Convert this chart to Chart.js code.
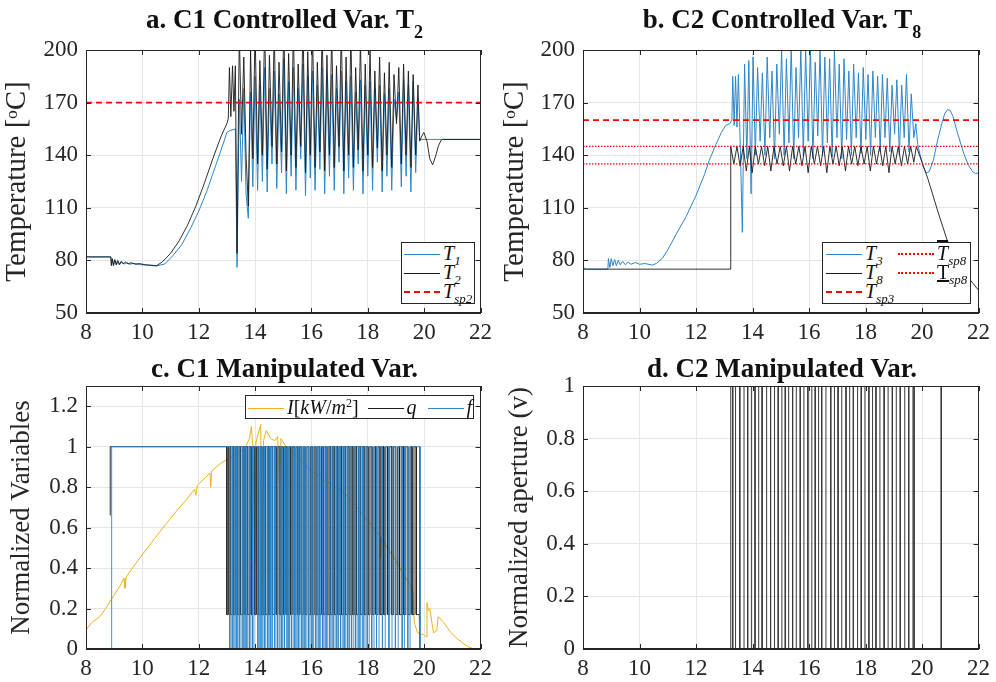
<!DOCTYPE html>
<html>
<head>
<meta charset="utf-8">
<script src="https://cdn.jsdelivr.net/npm/chart.js@4.4.1/dist/chart.umd.min.js"></script>
<style>
  body { margin: 0; background: #fff; }
  #wrap { position: relative; width: 996px; height: 682px; overflow: hidden; font-family: "Liberation Serif", "Times New Roman", serif; color: #111; }
  canvas { position: absolute; }
  .ttl { position: absolute; text-align: center; font-weight: bold; font-size: 27px; line-height: 27px; white-space: nowrap; }
  .ttl sub { font-size: 18px; vertical-align: -10px; line-height: 0; }
  .leg { position: absolute; background: #fff; border: 1px solid #262626; z-index: 2; font-size: 20px; }
  .row { position: absolute; height: 20px; line-height: 20px; white-space: nowrap; }
  .ln { display: inline-block; width: 36px; height: 0; margin-right: 3px; vertical-align: middle; position: relative; top: -1px; }
  .row i { font-style: italic; }
  .sb { font-size: 13px; font-style: italic; position: relative; top: 5px; }
  .sp { font-size: 12px; position: relative; top: -7px; }
</style>
</head>
<body>
<div id="wrap">
  <canvas id="cA" width="498" height="345" style="left:0;top:0"></canvas>
  <canvas id="cB" width="498" height="345" style="left:498px;top:0"></canvas>
  <canvas id="cC" width="498" height="337" style="left:0;top:345px"></canvas>
  <canvas id="cD" width="498" height="337" style="left:498px;top:345px"></canvas>

  <div class="ttl" style="left:86px;width:397px;top:6px">a. C1 Controlled Var. T<sub>2</sub></div>
  <div class="ttl" style="left:583px;width:398px;top:6px">b. C2 Controlled Var. T<sub>8</sub></div>
  <div class="ttl" style="left:86px;width:397px;top:355px">c. C1 Manipulated Var.</div>
  <div class="ttl" style="left:583px;width:398px;top:355px">d. C2 Manipulated Var.</div>

  <div class="leg" style="left:401px;top:242px;width:72px;height:60px">
    <div class="row" style="left:2px;top:0px"><span class="ln" style="border-top:1.5px solid #2E86C8"></span><i>T</i><span class="sb">1</span></div>
    <div class="row" style="left:2px;top:19px"><span class="ln" style="border-top:1.5px solid #1a1a1a"></span><i>T</i><span class="sb">2</span></div>
    <div class="row" style="left:2px;top:38px"><span class="ln" style="border-top:2px dashed #ff0000"></span><i>T</i><span class="sb">sp2</span></div>
  </div>

  <div class="leg" style="left:822px;top:242px;width:147px;height:60px">
    <div class="row" style="left:3px;top:0px"><span class="ln" style="border-top:1.5px solid #2E86C8"></span><i>T</i><span class="sb">3</span></div>
    <div class="row" style="left:3px;top:19px"><span class="ln" style="border-top:1.5px solid #1a1a1a"></span><i>T</i><span class="sb">8</span></div>
    <div class="row" style="left:3px;top:38px"><span class="ln" style="border-top:2px dashed #ff0000"></span><i>T</i><span class="sb">sp3</span></div>
    <div class="row" style="left:75px;top:0px"><span class="ln" style="border-top:2px dotted #ff0000"></span><i style="text-decoration:overline">T</i><span class="sb">sp8</span></div>
    <div class="row" style="left:75px;top:19px"><span class="ln" style="border-top:2px dotted #ff0000"></span><span style="text-decoration:underline">T</span><span class="sb">sp8</span></div>
  </div>

  <div class="leg" style="left:245px;top:395px;width:227px;height:22px">
    <div class="row" style="left:2px;top:1px">
      <span class="ln" style="border-top:1.5px solid #EDB120"></span><i>I</i>[<i>kW</i>/<i>m</i><span class="sp">2</span>]
      <span class="ln" style="border-top:1.5px solid #1a1a1a;margin-left:4px"></span><i>q</i>
      <span class="ln" style="border-top:1.5px solid #2E86C8;margin-left:6px"></span><i>f</i>
    </div>
  </div>
</div>

<script>
// ---------- data (hours on x) ----------
const hourTicks = [8, 10, 12, 14, 16, 18, 20, 22];
const tempTicks = [50, 80, 110, 140, 170, 200];

// panel a: T1, T2 and set point
const t1Curve = [
  [8,82],[8.88,82],[8.9,78],[8.94,80.5],[8.98,77.5],[9.03,80],[9.08,77.5],[9.14,79.5],[9.2,77.8],[9.28,79],
  [9.36,78],[9.45,78.8],[9.55,77.8],[9.7,78.3],[9.9,77.6],[10.1,77.4],[10.3,77.1],[10.5,76.8],[10.8,78],[11.1,83],
  [11.4,89],[11.7,98],[12.0,108],[12.3,120],[12.6,134],[12.9,148],[13.0,153],[13.1,154],[13.3,155],[13.36,76],
  [13.44,172],[13.52,125],[13.6,178],[13.68,118],[13.76,104],[13.84,176],[13.92,122],[14.0,185],[14.09,120],[14.17,180],
  [14.26,125],[14.34,190],[14.43,119],[14.51,178],[14.6,135],[14.68,188],[14.77,121],[14.85,175],[14.94,130],[15.02,195],
  [15.11,118],[15.19,182],[15.28,128],[15.36,190],[15.45,120],[15.53,178],[15.62,138],[15.7,192],[15.79,117],[15.87,185],
  [15.96,127],[16.04,188],[16.13,120],[16.21,180],[16.3,132],[16.38,190],[16.47,118],[16.55,183],[16.64,128],[16.72,186],
  [16.81,120],[16.89,178],[16.98,136],[17.06,188],[17.15,118],[17.23,182],[17.32,127],[17.4,185],[17.49,120],[17.57,176],
  [17.66,135],[17.74,183],[17.83,118],[17.91,180],[18.0,128],[18.08,182],[18.17,120],[18.25,178],[18.34,136],[18.42,180],
  [18.51,119],[18.59,175],[18.68,128],[18.76,178],[18.85,120],[18.93,172],[19.02,160],[19.1,176],[19.19,122],[19.27,183],
  [19.36,128],[19.44,180],[19.53,119],[19.61,182],[19.7,130],[19.78,172],[19.84,149],[22,149]
];
const t2Curve = [
  [8,82],[8.88,82],[8.9,77],[8.93,81],[8.97,77],[9.02,80.5],[9.07,77.5],[9.12,80],[9.18,77.5],[9.25,79.5],
  [9.32,78],[9.4,79],[9.5,78],[9.6,78.7],[9.75,77.8],[9.9,78.2],[10.1,77.5],[10.3,77.3],[10.5,77],[10.7,79],
  [11.0,84],[11.3,91],[11.6,100],[11.9,111],[12.2,124],[12.5,138],[12.8,151],[13.0,158],[13.05,161],[13.09,190],
  [13.14,162],[13.2,191],[13.25,165],[13.3,191],[13.36,84],[13.44,210],[13.52,152],[13.6,196],[13.68,140],[13.76,111],
  [13.84,200],[13.92,138],[14.0,212],[14.09,135],[14.17,194],[14.26,140],[14.34,215],[14.43,132],[14.51,197],[14.6,145],
  [14.68,210],[14.77,135],[14.85,193],[14.94,142],[15.02,215],[15.11,131],[15.19,198],[15.28,140],[15.36,212],[15.45,133],
  [15.53,192],[15.62,145],[15.7,215],[15.79,130],[15.87,199],[15.96,140],[16.04,210],[16.13,133],[16.21,193],[16.3,142],
  [16.38,212],[16.47,131],[16.55,197],[16.64,140],[16.72,210],[16.81,133],[16.89,191],[16.98,145],[17.06,212],[17.15,131],
  [17.23,196],[17.32,140],[17.4,208],[17.49,133],[17.57,190],[17.66,143],[17.74,205],[17.83,131],[17.91,192],[18.0,140],
  [18.08,200],[18.17,133],[18.25,188],[18.34,144],[18.42,196],[18.51,131],[18.59,187],[18.68,140],[18.76,193],[18.85,133],
  [18.93,186],[19.02,158],[19.1,190],[19.19,135],[19.27,192],[19.36,140],[19.44,188],[19.53,133],[19.61,186],[19.7,140],
  [19.78,180],[19.84,148],[19.92,151],[19.99,153],[20.1,148],[20.2,138],[20.3,134.5],[20.4,139],[20.5,145],[20.6,148.5],
  [20.66,149],[22,149]
];
const tsp2 = 170;

// panel b: T3, T8 and set points
const t3Curve = [
  [8,76],[8.1,75],[8.88,75],[8.9,81],[8.95,76],[9.0,81],[9.06,77],[9.12,80.5],[9.18,77],[9.25,80],
  [9.32,77.5],[9.4,79.5],[9.5,77.5],[9.6,79],[9.7,77.8],[9.85,78.8],[10.0,77.8],[10.2,78.2],[10.45,77.3],[10.6,78.3],
  [10.8,81],[11.0,86],[11.3,95],[11.65,105],[12.0,117],[12.3,129],[12.47,137],[12.7,146],[12.9,153],[13.05,157],
  [13.2,158],[13.27,160],[13.3,185],[13.35,157],[13.4,185],[13.45,156],[13.5,186],[13.56,150],[13.64,96],[13.72,192],
  [13.8,138],[13.87,194],[13.95,118],[14.02,196],[14.1,140],[14.18,190],[14.27,148],[14.35,187],[14.44,140],[14.52,196],
  [14.61,150],[14.69,188],[14.78,138],[14.86,192],[14.95,152],[15.03,200],[15.12,140],[15.2,195],[15.29,147],[15.37,202],
  [15.46,138],[15.54,190],[15.63,150],[15.71,201],[15.8,140],[15.88,200],[15.97,148],[16.05,202],[16.14,138],[16.22,193],
  [16.31,151],[16.39,200],[16.48,140],[16.56,196],[16.65,147],[16.73,195],[16.82,139],[16.9,200],[16.99,150],[17.07,192],
  [17.16,138],[17.24,195],[17.33,149],[17.41,188],[17.5,140],[17.58,192],[17.67,150],[17.75,187],[17.84,141],[17.92,190],
  [18.01,149],[18.09,186],[18.18,140],[18.26,188],[18.35,150],[18.43,185],[18.52,142],[18.6,186],[18.69,150],[18.77,184],
  [18.86,142],[18.94,180],[19.03,152],[19.11,183],[19.2,140],[19.28,180],[19.37,150],[19.45,186],[19.54,142],[19.62,175],
  [19.71,150],[19.78,158],[19.85,146],[19.95,139],[20.05,133],[20.15,130],[20.25,130.5],[20.4,137],[20.56,149],[20.7,158],
  [20.8,163.5],[20.9,166],[21.0,165.5],[21.1,162],[21.25,153],[21.4,145],[21.5,140],[21.65,134],[21.8,130.5],[21.9,129.5],
  [22,130]
];
const t8Curve = [
  [8,75],[13.23,75],[13.23,145],[13.34,135],[13.45,145],[13.56,134],[13.67,145],[13.78,131],[13.89,145],[13.99,130],
  [14.1,145],[14.21,135],[14.32,145],[14.43,134],[14.54,145],[14.65,131],[14.76,145],[14.87,135],[14.98,145],[15.09,134],
  [15.2,145],[15.31,131],[15.42,145],[15.53,135],[15.64,145],[15.75,134],[15.86,145],[15.97,130],[16.08,145],[16.19,135],
  [16.3,145],[16.41,134],[16.52,145],[16.63,130],[16.74,145],[16.85,135],[16.96,145],[17.07,134],[17.18,145],[17.29,131],
  [17.4,145],[17.51,135],[17.62,145],[17.73,134],[17.84,145],[17.95,135],[18.06,145],[18.17,131],[18.28,145],[18.39,135],
  [18.5,145],[18.61,134],[18.72,145],[18.83,130],[18.94,145],[19.05,135],[19.16,145],[19.27,134],[19.38,145],[19.49,135],
  [19.6,145],[19.71,136],[19.8,145],[20.0,136],[20.2,127],[20.56,108],[20.9,91],[21.2,81],[21.5,73],[21.8,67],[22,63]
];
const tsp3 = 160;
const tsp8Upper = 145;
const tsp8Lower = 135;

// panel c: irradiance I, q and f
const irradiance = [
  [8,0.094],[8.2,0.13],[8.49,0.16],[8.7,0.2],[8.96,0.258],[9.2,0.31],[9.35,0.35],[9.38,0.3],[9.43,0.357],[9.7,0.41],
  [10.02,0.47],[10.4,0.54],[10.85,0.62],[11.2,0.68],[11.55,0.736],[11.85,0.79],[11.9,0.76],[11.95,0.81],[12.02,0.818],[12.4,0.87],
  [12.43,0.8],[12.46,0.88],[12.8,0.92],[13.19,0.95],[13.5,0.98],[13.67,1.0],[13.8,1.04],[13.87,1.1],[13.93,0.98],[13.99,0.43],
  [14.03,1.02],[14.2,1.11],[14.25,0.32],[14.3,1.03],[14.4,1.08],[14.55,1.04],[14.7,1.03],[14.8,1.05],[14.87,0.8],[14.92,1.04],
  [15.1,1.0],[15.5,0.95],[16.02,0.88],[16.5,0.83],[17.07,0.785],[17.5,0.72],[17.9,0.65],[18.2,0.6],[18.42,0.56],[18.45,0.45],
  [18.48,0.55],[18.7,0.5],[19.07,0.42],[19.3,0.36],[19.53,0.31],[19.6,0.28],[19.65,0.13],[19.77,0.08],[20.0,0.07],[20.08,0.06],
  [20.1,0.23],[20.15,0.19],[20.2,0.2],[20.33,0.08],[20.45,0.09],[20.5,0.16],[20.7,0.13],[20.9,0.09],[21.1,0.06],[21.45,0.02],
  [21.7,0.003],[22,0]
];
const qStart = [[8.86,0.66],[8.86,1]];
const qLevels = [1, 0.17];
const qSwitch = [
  13.00,13.06,13.12,13.19,13.24,13.30,13.37,13.43,13.48,13.55,13.61,13.66,13.73,13.79,13.86,13.92,13.99,14.05,14.12,14.18,
  14.24,14.31,14.37,14.43,14.49,14.56,14.62,14.68,14.75,14.81,14.88,14.94,15.00,15.07,15.13,15.20,15.26,15.32,15.39,15.45,
  15.52,15.58,15.64,15.71,15.77,15.84,15.90,15.97,16.03,16.10,16.16,16.23,16.29,16.36,16.42,16.49,16.55,16.62,16.68,16.75,
  16.81,16.88,16.94,17.01,17.07,17.14,17.21,17.27,17.34,17.40,17.47,17.54,17.60,17.67,17.74,17.80,17.87,17.94,18.01,18.08,
  18.15,18.22,18.29,18.36,18.43,18.50,18.57,18.64,18.71,18.78,18.85,18.92,18.99,19.06,19.13,19.21,19.28,19.35,19.42,19.50,
  19.57,19.64,19.72,19.83
];
const qEnd = [[19.85,0],[22,0]];
const fStart = [[8,0],[8.91,0],[8.91,1]];
const fLevels = [1, 0];
const fSwitch = [
  13.10,13.15,13.21,13.26,13.33,13.38,13.44,13.50,13.57,13.62,13.68,13.74,13.80,13.85,13.91,13.96,14.10,14.15,14.21,14.27,
  14.33,14.38,14.45,14.50,14.56,14.62,14.69,14.74,14.80,14.86,14.93,14.98,15.04,15.11,15.17,15.22,15.29,15.35,15.41,15.46,
  15.53,15.59,15.66,15.71,15.77,15.84,15.90,15.95,16.02,16.08,16.15,16.20,16.27,16.33,16.40,16.45,16.52,16.58,16.65,16.70,
  16.77,16.84,16.90,16.96,17.03,17.09,17.16,17.22,17.29,17.35,17.42,17.48,17.56,17.62,17.69,17.75,17.83,17.90,17.98,18.05,
  18.14,18.22,18.31,18.40,18.52,18.62,18.75,18.86,18.98,19.08,19.22,19.30,19.42,19.50
];
const fEnd = [[19.85,0],[22,0]];

// panel d: valve aperture v
const vStart = [[8,0]];
const vLevels = [0, 1];
const vSwitch = [
  13.23,13.30,13.40,13.55,13.70,13.83,13.96,14.09,14.22,14.34,14.50,14.64,14.78,14.91,15.04,15.16,15.28,15.42,15.55,15.69,
  15.82,15.96,16.10,16.22,16.34,16.45,16.60,16.77,16.90,17.03,17.16,17.31,17.44,17.57,17.72,17.85,17.98,18.12,18.25,18.37,
  18.51,18.66,18.80,18.95,19.09,19.23,19.39,19.53,19.68,19.72,20.67,20.69
];
const vEnd = [[22,0]];

// ---------- helpers ----------
const FONT = '"Liberation Serif", "Times New Roman", Times, serif';
const TXT = '#262626';
const BLUE = '#2E86C8', BLACK = '#1a1a1a', RED = '#ff0000', YELLOW = '#EDB120';
Chart.defaults.font.family = FONT;

const xy = arr => arr.map(([x, y]) => ({ x, y }));

function stepped(start, switches, levels, end) {
  const pts = xy(start);
  let v = levels[0];
  switches.forEach(t => {
    pts.push({ x: t, y: v });
    v = (v === levels[0]) ? levels[1] : levels[0];
    pts.push({ x: t, y: v });
  });
  pts.push({ x: end[0][0], y: v });
  return pts.concat(xy(end));
}

const flat = v => [{ x: hourTicks[0], y: v }, { x: hourTicks[hourTicks.length - 1], y: v }];

function line(data, color, extra) {
  return Object.assign({ data, borderColor: color, borderWidth: 1, pointRadius: 0, tension: 0, fill: false }, extra || {});
}

// box around the plot with inward ticks, like the original figure
const boxPlugin = {
  id: 'box',
  afterDraw(chart) {
    const { ctx, chartArea: a, scales } = chart;
    ctx.save();
    ctx.strokeStyle = TXT;
    ctx.lineWidth = 1;
    ctx.strokeRect(Math.round(a.left) + 0.5, Math.round(a.top) + 0.5, Math.round(a.right - a.left) - 1, Math.round(a.bottom - a.top) - 1);
    ctx.beginPath();
    scales.x.ticks.forEach(t => {
      const p = Math.round(scales.x.getPixelForValue(t.value)) + 0.5;
      ctx.moveTo(p, a.bottom); ctx.lineTo(p, a.bottom - 5);
      ctx.moveTo(p, a.top); ctx.lineTo(p, a.top + 5);
    });
    scales.y.ticks.forEach(t => {
      const p = Math.round(scales.y.getPixelForValue(t.value)) + 0.5;
      ctx.moveTo(a.left, p); ctx.lineTo(a.left + 5, p);
      ctx.moveTo(a.right, p); ctx.lineTo(a.right - 5, p);
    });
    ctx.stroke();
    ctx.restore();
  }
};

function makeChart(id, datasets, y, yWidth, padTop, xHeight) {
  return new Chart(document.getElementById(id), {
    type: 'line',
    data: { datasets },
    plugins: [boxPlugin],
    options: {
      responsive: false,
      animation: false,
      layout: { padding: { top: padTop, right: 15, left: 0, bottom: 0 } },
      plugins: { legend: { display: false }, tooltip: { enabled: false } },
      scales: {
        x: {
          type: 'linear', min: 8, max: 22,
          afterBuildTicks: s => { s.ticks = hourTicks.map(v => ({ value: v })); },
          ticks: { color: TXT, font: { family: FONT, size: 23 }, padding: 6, maxRotation: 0 },
          grid: { color: '#e6e6e6', drawTicks: false },
          border: { color: TXT },
          afterFit: s => { s.height = xHeight; }
        },
        y: Object.assign({
          type: 'linear',
          grid: { color: '#e6e6e6', drawTicks: false },
          border: { color: TXT },
          afterFit: s => { s.width = yWidth; }
        }, y)
      }
    }
  });
}

const numLabel = v => String(+Number(v).toFixed(1));
const tempTitle = { display: true, text: 'Temperature [ᵒC]', color: TXT, font: { family: FONT, size: 29 }, padding: { top: 0, bottom: 0 } };

// ---------- panel a ----------
makeChart('cA', [
  line(flat(tsp2), RED, { borderDash: [6, 4], borderWidth: 1.6 }),
  line(xy(t2Curve), BLACK, { borderWidth: 0.9 }),
  line(xy(t1Curve), BLUE)
], {
  min: 50, max: 200,
  afterBuildTicks: s => { s.ticks = tempTicks.map(v => ({ value: v })); },
  ticks: { color: TXT, font: { family: FONT, size: 23 }, padding: 8 },
  title: tempTitle
}, 86, 50, 32);

// ---------- panel b ----------
makeChart('cB', [
  line(flat(tsp8Lower), RED, { borderDash: [1.5, 1.5], borderWidth: 1.3 }),
  line(flat(tsp8Upper), RED, { borderDash: [1.5, 1.5], borderWidth: 1.3 }),
  line(flat(tsp3), RED, { borderDash: [6, 4], borderWidth: 1.6 }),
  line(xy(t8Curve), BLACK, { borderWidth: 0.9 }),
  line(xy(t3Curve), BLUE)
], {
  min: 50, max: 200,
  afterBuildTicks: s => { s.ticks = tempTicks.map(v => ({ value: v })); },
  ticks: { color: TXT, font: { family: FONT, size: 23 }, padding: 8 },
  title: tempTitle
}, 85, 50, 32);

// ---------- panel c ----------
makeChart('cC', [
  line(stepped(fStart, fSwitch, fLevels, fEnd), BLUE, { borderWidth: 0.9 }),
  line(stepped(qStart, qSwitch, qLevels, qEnd), BLACK, { borderWidth: 0.9 }),
  line(xy(irradiance), YELLOW)
], {
  min: 0, max: 1.3,
  afterBuildTicks: s => { s.ticks = [0, 0.2, 0.4, 0.6, 0.8, 1, 1.2].map(v => ({ value: v })); },
  ticks: { color: TXT, font: { family: FONT, size: 23 }, padding: 8, callback: numLabel },
  title: { display: true, text: 'Normalized Variables', color: TXT, font: { family: FONT, size: 27 }, padding: { top: 6, bottom: 0 } }
}, 86, 41, 33);

// ---------- panel d ----------
makeChart('cD', [
  line(stepped(vStart, vSwitch, vLevels, vEnd), '#3a3a3a', { borderWidth: 1 })
], {
  min: 0, max: 1,
  afterBuildTicks: s => { s.ticks = [0, 0.2, 0.4, 0.6, 0.8, 1].map(v => ({ value: v })); },
  ticks: { color: TXT, font: { family: FONT, size: 23 }, padding: 8, callback: numLabel },
  title: { display: true, text: 'Normalized aperture (v)', color: TXT, font: { family: FONT, size: 27 }, padding: { top: 6, bottom: 0 } }
}, 85, 41, 33);
</script>
</body>
</html>
